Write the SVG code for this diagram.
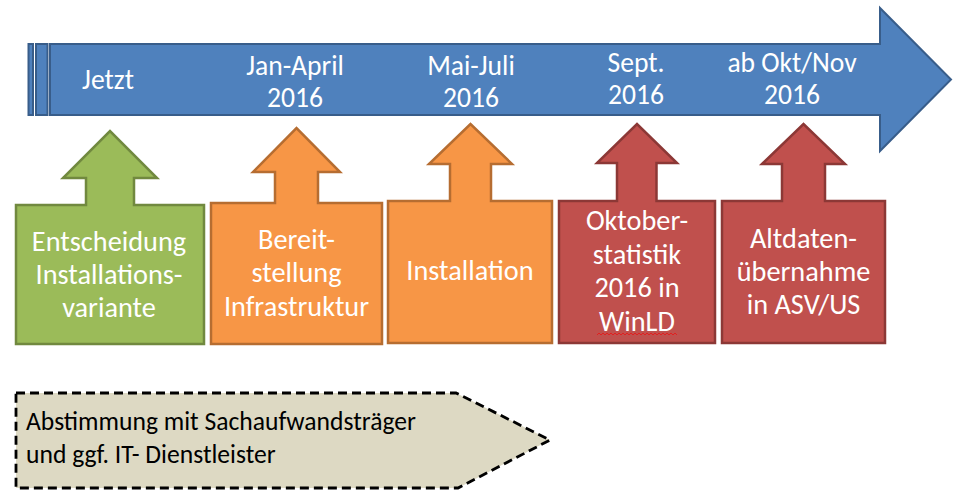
<svg xmlns="http://www.w3.org/2000/svg" width="958" height="502" viewBox="0 0 958 502">
<style>
.t{font-family:Carlito,Lato,"Liberation Sans",sans-serif;fill:#fff;text-anchor:middle}
.tl{font-size:27.6px}
.bx{font-size:28.3px}
.blue{fill:#4F81BD;stroke:#385D8A;stroke-width:2}
.green{fill:#9BBB59;stroke:#71893F;stroke-width:2.5}
.orange{fill:#F79646;stroke:#B66D31;stroke-width:2.5}
.red{fill:#C0504D;stroke:#8C3836;stroke-width:2.5}
.pent{fill:#DDD9C3;stroke:#000;stroke-width:2.8;stroke-dasharray:9,5}
.bt{font-family:Carlito,Lato,"Liberation Sans",sans-serif;font-size:25.6px;fill:#000}
</style>
<rect width="958" height="502" fill="#fff"/>
<g id="timeline">
<rect class="blue" x="28.5" y="44" width="4.5" height="71"/>
<rect class="blue" x="36" y="44" width="11.5" height="71"/>
<path class="blue" d="M50,44 H880 V8 L951,79.5 L880,151 V115 H50 Z"/>
<text class="t tl" x="108" y="89">Jetzt</text>
<text class="t tl"><tspan x="295" y="75">Jan-April</tspan><tspan x="295" y="107">2016</tspan></text>
<text class="t tl"><tspan x="471" y="75">Mai-Juli</tspan><tspan x="471" y="107">2016</tspan></text>
<text class="t tl"><tspan x="636" y="72">Sept.</tspan><tspan x="636" y="104">2016</tspan></text>
<text class="t tl"><tspan x="792" y="72">ab Okt/Nov</tspan><tspan x="792" y="104">2016</tspan></text>
</g>
<g id="entscheidung">
<path class="green" d="M16,205 H86 V178 H63 L110,131 L157,178 H134 V205 H204 V344 H16 Z"/>
<text class="t bx"><tspan x="109" y="251">Entscheidung</tspan><tspan x="109" y="284">Installations-</tspan><tspan x="109" y="317">variante</tspan></text>
</g>
<g id="bereitstellung">
<path class="orange" d="M211,203 H275 V172 H253 L296.5,128 L340,172 H318 V203 H382 V344 H211 Z"/>
<text class="t bx"><tspan x="296.5" y="249">Bereit-</tspan><tspan x="296.5" y="282">stellung</tspan><tspan x="296.5" y="316">Infrastruktur</tspan></text>
</g>
<g id="installation">
<path class="orange" d="M388,201 H450 V164 H429 L470.5,124 L512,164 H491 V201 H552 V343 H388 Z"/>
<text class="t bx" x="470" y="280">Installation</text>
</g>
<g id="oktoberstatistik">
<path class="red" d="M559,201 H617 V163 H597 L637,124 L677,163 H656.5 V201 H715 V343 H559 Z"/>
<text class="t bx"><tspan x="637" y="230">Oktober-</tspan><tspan x="637" y="263.5">statistik</tspan><tspan x="637" y="297">2016 in</tspan><tspan x="637" y="330.5">WinLD</tspan></text>
<path d="M597,335 l2,-2 l2,2 l2,-2 l2,2 l2,-2 l2,2 l2,-2 l2,2 l2,-2 l2,2 l2,-2 l2,2 l2,-2 l2,2 l2,-2 l2,2 l2,-2 l2,2 l2,-2 l2,2 l2,-2 l2,2 l2,-2 l2,2 l2,-2 l2,2 l2,-2 l2,2 l2,-2 l2,2 l2,-2 l2,2 l2,-2 l2,2 l2,-2 l2,2 l2,-2 l2,2 l2,-2 l2,2" fill="none" stroke="#E02020" stroke-width="1"/>
</g>
<g id="altdaten">
<path class="red" d="M722,201 H782 V164 H762 L803.5,124 L845,164 H825 V201 H885 V343 H722 Z"/>
<text class="t bx"><tspan x="803.5" y="248">Altdaten-</tspan><tspan x="803.5" y="281">übernahme</tspan><tspan x="803.5" y="314">in ASV/US</tspan></text>
</g>
<g id="abstimmung">
<path class="pent" d="M16,393 H456 L550,440 L458,488 H16 Z"/>
<text class="bt"><tspan x="26" y="430">Abstimmung mit Sachaufwandsträger</tspan><tspan x="26" y="463">und ggf. IT- Dienstleister</tspan></text>
</g>
<g id="connectors"></g>
</svg>
